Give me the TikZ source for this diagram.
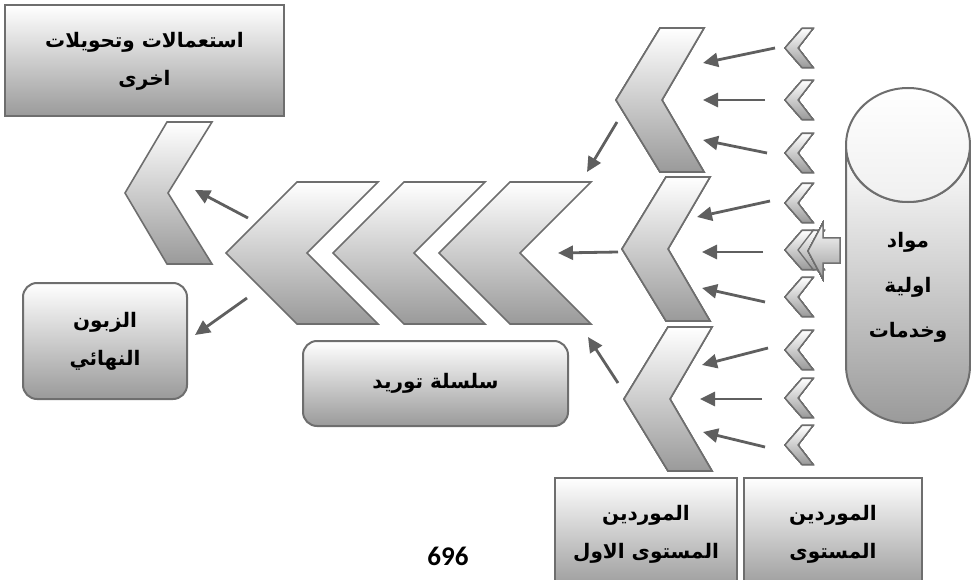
\documentclass[tikz,border=0pt]{standalone}
\usepackage{fontspec}
\usetikzlibrary{arrows.meta}
\TeXXeTstate=1
\newfontfamily\arabicfont[Script=Arabic]{DejaVu Sans}
\newfontfamily\numfont{Carlito}
\definecolor{edgegray}{HTML}{6E6E6E}
\definecolor{arrowgray}{HTML}{5F5F5F}
\definecolor{shadegray}{HTML}{9A9A9A}
\newcommand{\artext}[1]{\beginR #1\endR}
% chevron: style, tip x, tip y, half height, arm, notch, width
\newcommand{\chev}[7]{\draw[#1] (#2,#3) -- ++(#5,-#4) -- ++({#7-#5},0)
  -- ({#2+#6},#3) -- ({#2+#7},{#3+#4}) -- ++({#5-#7},0) -- cycle;}

\begin{document}
\begin{tikzpicture}[x=1pt,y=-1pt,>={Triangle[length=15pt,width=14pt]},
    chev node/.style={draw=edgegray,line width=1.6pt,top color=white,bottom color=shadegray},
    box node/.style={rectangle,draw=edgegray,line width=2pt,top color=white,
      bottom color=shadegray,align=center,inner sep=0pt,
      font=\arabicfont\bfseries\fontsize{20}{38}\selectfont},
    round node/.style={box node,rounded corners=14pt},
    label node/.style={align=center,inner sep=0pt,
      font=\arabicfont\bfseries\fontsize{20}{45}\selectfont},
    link/.style={->,draw=arrowgray,line width=2.8pt}]
  \useasboundingbox (0,0) rectangle (971,580);

  % boxes
  \node[box node,minimum width=279,minimum height=111] (other) at (144.5,61)
    {\artext{استعمالات وتحويلات}\\\artext{اخرى}};
  \node[round node,minimum width=164,minimum height=116] (client) at (105,341)
    {\artext{الزبون}\\\artext{النهائي}};
  \node[round node,minimum width=265,minimum height=85] (chain) at (435.5,383.5)
    {\artext{سلسلة توريد}};
  \node[box node,minimum width=182,minimum height=112] (tier1) at (646,534)
    {\artext{الموردين}\\\artext{المستوى الاول}};
  \node[box node,minimum width=178,minimum height=112] (tier2) at (833,534)
    {\artext{الموردين}\\\artext{المستوى}};
  \node[font=\numfont\bfseries\fontsize{27}{30}\selectfont] (page) at (448,556) {696};

  % chevrons
  \chev{chev node}{125}{193}{71}{42}{43}{87}
  \foreach \tx in {226,333,439}
    \chev{chev node}{\tx}{253}{71}{71}{81}{152}
  \foreach \tx/\ty in {616/100,622/249,624/399}
    \chev{chev node}{\tx}{\ty}{72}{44}{46}{88}
  \chev{chev node,line width=1.3pt}{796}{250}{19.5}{17}{13}{28}
  \foreach \ty in {48,100,153,203,250,297,350,398,445}
    \chev{chev node,line width=1.3pt}{785}{\ty}{19.5}{17}{13}{28}
  \draw[chev node,line width=1.3pt] (808,251) -- (823,223) -- (823,238) -- (840,238)
    -- (840,263) -- (823,263) -- (823,279) -- cycle;

  % cylinder
  \draw[draw=edgegray,line width=2pt,top color=white,bottom color=shadegray]
    (846,145) -- (846,366) arc[start angle=180,end angle=0,x radius=62,y radius=57]
    -- (970,145) arc[start angle=0,end angle=180,x radius=62,y radius=57] -- cycle;
  \draw[draw=edgegray,line width=2pt,top color=white,bottom color=gray!12]
    (908,145) ellipse[x radius=62,y radius=57];
  \node[label node] (raw) at (908,287)
    {\artext{مواد}\\\artext{اولية}\\\artext{وخدمات}};

  % links
  \foreach \sx/\sy/\ex/\ey [count=\i] in {775/48/703/63, 765/100/703/100,
      767/153/703/140, 770/201/697/217, 763/252/702/252, 765/302/702/288,
      768/348/702/365, 762/399/700/399, 765/447/703/432,
      617/122/587/172, 618/252/558/253, 618/383/588/337,
      248/218/195/190, 247/298/195/335} {
    \coordinate (s\i) at (\sx,\sy);
    \coordinate (e\i) at (\ex,\ey);
    \draw[link] (s\i) -- (e\i);
  }
\end{tikzpicture}
\end{document}
